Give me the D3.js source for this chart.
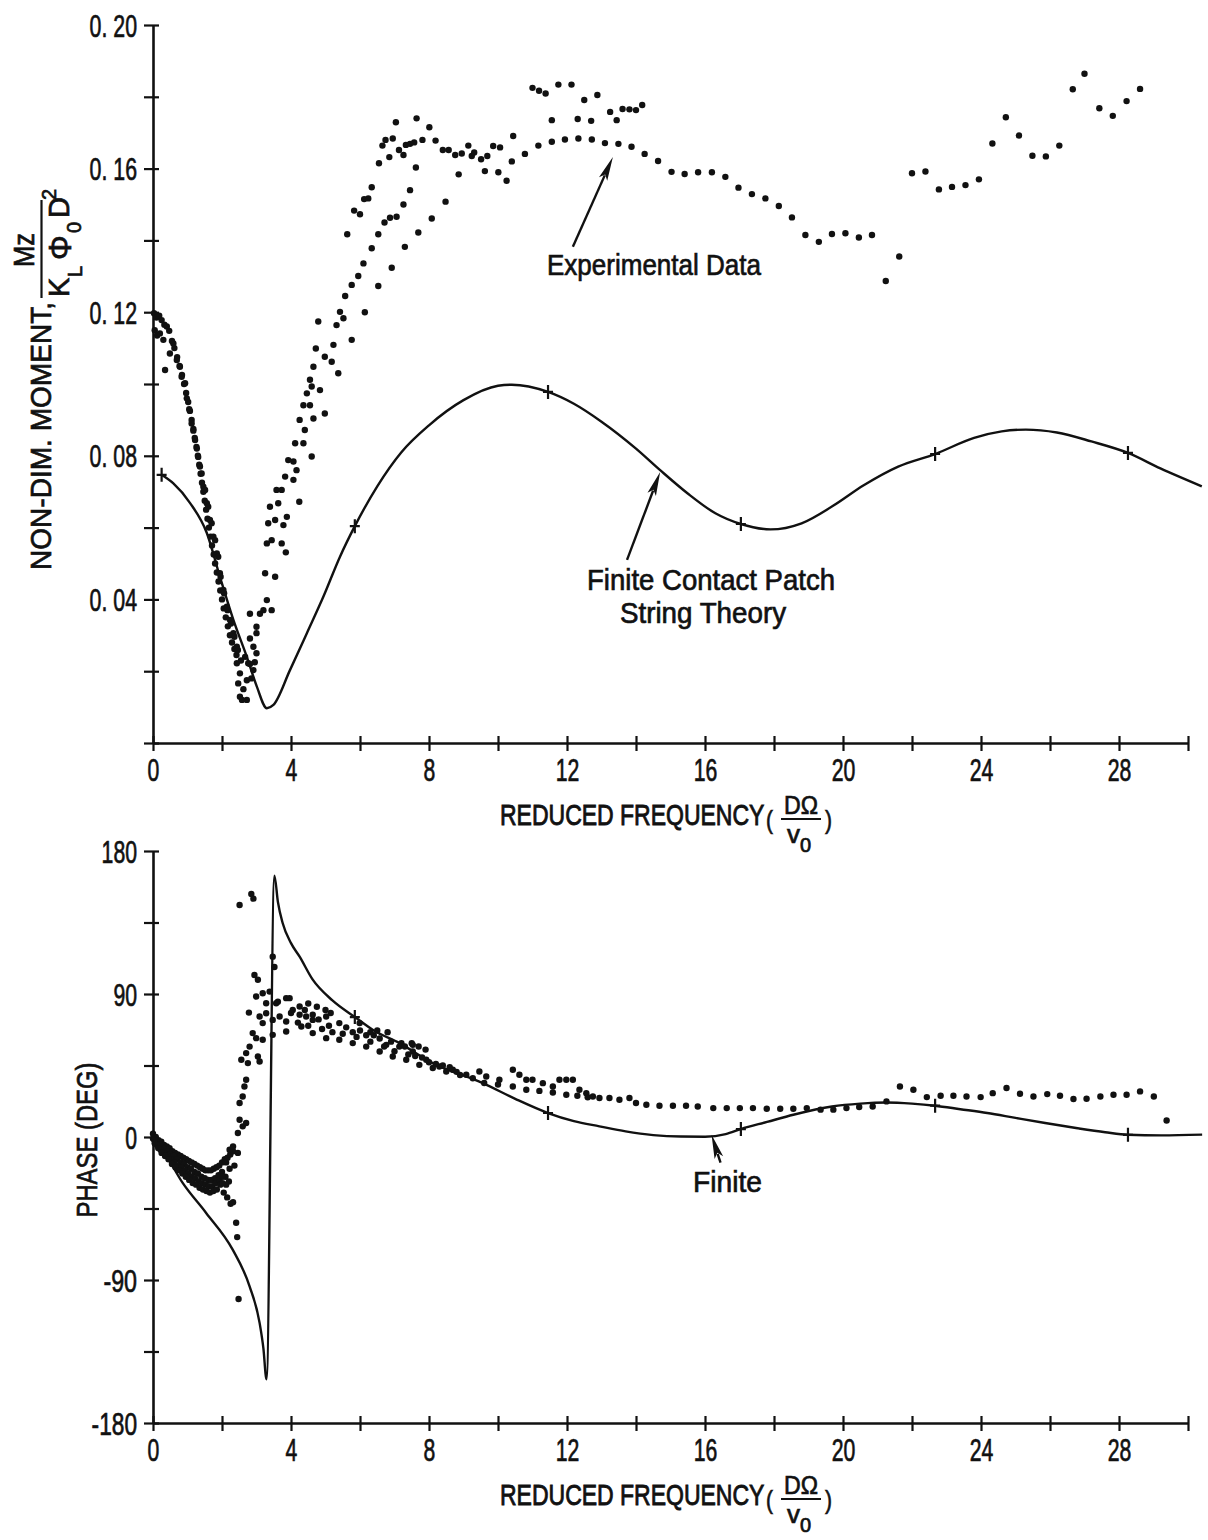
<!DOCTYPE html>
<html>
<head>
<meta charset="utf-8">
<script src="https://cdn.jsdelivr.net/npm/d3@7"></script>
<style>
  html, body { margin: 0; padding: 0; background: #fff; }
  svg { display: block; }
  text { font-family: "Liberation Sans", Arimo, Arial, sans-serif; fill: #111; stroke: #111; stroke-width: 0.7px; }
</style>
</head>
<body>
<svg id="chart" width="1208" height="1540"></svg>
<script>
// ---------- axis ticks and labels ----------
const freqTicks = [0, 2, 4, 6, 8, 10, 12, 14, 16, 18, 20, 22, 24, 26, 28, 30];
const freqLabels = [0, 4, 8, 12, 16, 20, 24, 28];
const momentTicks = [0, 0.02, 0.04, 0.06, 0.08, 0.10, 0.12, 0.14, 0.16, 0.18, 0.20];
const momentLabelValues = [0.04, 0.08, 0.12, 0.16, 0.20];
const momentLabelText = ["0. 04", "0. 08", "0. 12", "0. 16", "0. 20"];
const phaseTicks = [-180, -135, -90, -45, 0, 45, 90, 135, 180];
const phaseLabels = [-180, -90, 0, 90, 180];

// ---------- upper panel: moment magnitude ----------
// string theory curve [reduced frequency, moment]
const momentTheory = [
  [0.25, 0.0747], [0.59, 0.0723], [1.07, 0.0669], [1.56, 0.0585], [1.94, 0.0463],
  [2.33, 0.0343], [2.72, 0.0240], [3.01, 0.0157], [3.30, 0.0097], [3.49, 0.0106],
  [3.97, 0.0203], [4.46, 0.0306], [4.94, 0.0408], [5.42, 0.0519], [5.85, 0.0604],
  [6.5, 0.0715], [7.2, 0.0810], [8.0, 0.0885], [9.0, 0.0955], [10.0, 0.0995],
  [10.4, 0.0998], [11.45, 0.0978], [12.2, 0.0945], [13.0, 0.0895], [14.0, 0.0820],
  [14.7, 0.0760], [15.5, 0.0695], [16.3, 0.0640], [17.04, 0.0610], [17.9, 0.0595],
  [18.8, 0.0612], [19.7, 0.0660], [20.6, 0.0718], [21.6, 0.0770], [22.67, 0.0805],
  [23.8, 0.0850], [24.6, 0.0868], [25.3, 0.0873], [26.2, 0.0865], [27.2, 0.0840],
  [28.26, 0.0808], [29.2, 0.0765], [30.4, 0.0715]
];
// frequencies where the computed points are marked with a cross
const momentMarkFreqs = [0.25, 5.85, 11.45, 17.04, 22.67, 28.26];

// measured moment [reduced frequency, moment]
const momentMeasured = [
  // falling band, low frequency
  [0.03,0.1197],[0.10,0.1185],[0.18,0.1190],[0.25,0.1178],[0.33,0.1165],[0.40,0.1160],[0.47,0.1148],
  [0.55,0.1120],[0.62,0.1100],[0.70,0.1075],[0.77,0.1050],[0.84,0.1025],[0.90,0.1000],[0.96,0.0975],
  [1.02,0.0950],[1.07,0.0925],[1.12,0.0900],[1.17,0.0875],[1.21,0.0850],[1.26,0.0825],[1.30,0.0800],
  [1.34,0.0775],[1.38,0.0750],[1.42,0.0725],[1.46,0.0700],[1.50,0.0675],[1.54,0.0650],[1.58,0.0625],
  [1.62,0.0600],[1.67,0.0575],[1.71,0.0550],[1.76,0.0525],[1.80,0.0500],[1.85,0.0475],[1.90,0.0450],
  [1.95,0.0425],[2.00,0.0400],[2.05,0.0375],[2.11,0.0350],[2.17,0.0325],[2.23,0.0300],[2.29,0.0280],
  [2.36,0.0262],[2.42,0.0245],
  [0.05,0.1150],[0.12,0.1135],[0.20,0.1141],[0.30,0.1123],[0.35,0.1039],[0.49,0.1085],[0.59,0.1113],
  [0.69,0.1067],[0.78,0.1048],[0.83,0.1020],[0.93,0.1002],[0.98,0.0960],[1.05,0.0930],[1.12,0.0890],
  [1.17,0.0870],[1.22,0.0844],[1.27,0.0820],[1.31,0.0797],[1.36,0.0770],[1.41,0.0751],[1.46,0.0714],
  [1.51,0.0705],[1.56,0.0668],[1.60,0.0658],[1.65,0.0621],[1.70,0.0612],[1.75,0.0575],[1.80,0.0565],
  [1.85,0.0528],[1.89,0.0519],[1.94,0.0473],[1.96,0.0463],[2.04,0.0426],[2.06,0.0417],[2.14,0.0380],
  [2.16,0.0370],[2.23,0.0343],[2.26,0.0333],[2.33,0.0306],[2.36,0.0296],[2.43,0.0268],[2.46,0.0259],
  // scatter near the minimum
  [2.43,0.0222],[2.52,0.0194],[2.47,0.0166],[2.52,0.0129],[2.58,0.0120],[2.72,0.0120],[2.67,0.0240],
  [2.76,0.0222],[2.81,0.0291],[3.00,0.0250],[2.91,0.0203],[2.72,0.0175],[2.62,0.0150],[2.55,0.0230],
  [2.85,0.0180],[2.95,0.0225],
  // rising branches
  [2.81,0.0220],[2.91,0.0268],[3.00,0.0306],[3.10,0.0360],[3.20,0.0370],[3.30,0.0398],[3.44,0.0370],
  [2.81,0.0360],[3.00,0.0324],[3.25,0.0473],[3.54,0.0463],[3.30,0.0556],[3.44,0.0565],[3.73,0.0556],
  [3.85,0.0531],[3.34,0.0612],[3.54,0.0621],[3.78,0.0607],[3.39,0.0658],[3.63,0.0668],[3.88,0.0630],
  [3.58,0.0705],[3.73,0.0705],[3.83,0.0742],[4.07,0.0733],[4.24,0.0672],[3.92,0.0788],[4.07,0.0784],
  [4.16,0.0760],[4.12,0.0835],[4.36,0.0835],[4.60,0.0798],[4.25,0.0900],[4.40,0.0872],[4.65,0.0904],
  [4.98,0.0918],[4.36,0.0941],[4.55,0.0941],[4.46,0.0974],[4.60,0.0993],[4.84,0.0983],[4.55,0.1012],
  [4.65,0.1048],[4.98,0.1076],[5.18,0.1062],[4.72,0.1099],[5.23,0.1109],[5.32,0.1164],[5.52,0.1183],
  [5.42,0.1201],[4.79,0.1174],[5.76,0.1123],[5.37,0.1030],[5.57,0.1245],[5.76,0.1276],[5.95,0.1301],
  [6.10,0.1336],[6.34,0.1378],[6.53,0.1417],[6.71,0.1450],[6.87,0.1463],[7.06,0.1466],[7.26,0.1500],
  [7.45,0.1540],[7.69,0.1422],[8.08,0.1461],[8.48,0.1508],[7.30,0.1382],[6.92,0.1324],[6.53,0.1273],
  [6.14,0.1200],
  [5.63,0.1417],[5.83,0.1483],[6.00,0.1473],[6.12,0.1515],[6.24,0.1517],[6.34,0.1548],[6.55,0.1615],
  [6.65,0.1664],[6.74,0.1680],[6.95,0.1684],[6.85,0.1632],[7.04,0.1729],[7.13,0.1652],[7.26,0.1638],
  [7.33,0.1666],[7.45,0.1669],[7.57,0.1673],[7.64,0.1740],[7.62,0.1603],[7.81,0.1680],[8.01,0.1715],
  [8.19,0.1678],[8.40,0.1652],[8.57,0.1652],[8.76,0.1638],[8.95,0.1642],[8.86,0.1584],[9.14,0.1664],
  [9.24,0.1635],[9.31,0.1645],[9.51,0.1626],[9.62,0.1593],[9.69,0.1635],[9.86,0.1663],[10.06,0.1659],
  [10.01,0.1590],[10.25,0.1566],[10.40,0.1620],[10.44,0.1691],[10.78,0.1641],[11.17,0.1664],
  [11.56,0.1675],[11.94,0.1681],[12.33,0.1684],[12.72,0.1681],[13.10,0.1671],[13.49,0.1669],
  [13.87,0.1661],[14.25,0.1641],[14.64,0.1621],[15.03,0.1591],[15.41,0.1585],[15.80,0.1590],
  // upper cluster
  [11.00,0.1825],[11.19,0.1817],[11.38,0.1809],[11.75,0.1834],[12.13,0.1834],[12.50,0.1791],
  [12.88,0.1805],[11.56,0.1735],[12.31,0.1738],[12.70,0.1733],[13.25,0.1758],[13.44,0.1735],
  [13.61,0.1766],[13.81,0.1765],[14.00,0.1763],[14.18,0.1777],
  // high frequency
  [16.20,0.1590],[16.59,0.1577],[16.97,0.1547],[17.36,0.1529],[17.75,0.1517],[18.14,0.1496],
  [18.52,0.1464],[18.91,0.1415],[19.30,0.1396],[19.68,0.1418],[20.07,0.1420],[20.46,0.1408],
  [20.84,0.1415],[21.24,0.1287],[21.63,0.1355],[22.00,0.1587],[22.39,0.1592],[22.78,0.1542],
  [23.16,0.1549],[23.55,0.1554],[23.94,0.1570],[24.33,0.1670],[24.72,0.1743],[25.10,0.1692],
  [25.49,0.1636],[25.88,0.1634],[26.27,0.1664],[26.66,0.1821],[27.00,0.1864],[27.43,0.1768],
  [27.82,0.1747],[28.22,0.1788],[28.61,0.1822]
];

// ---------- lower panel: phase ----------
const phaseTheory = [
  [0.0, 0], [0.28, -8], [0.86, -28.9], [1.54, -47.8], [2.31, -70.9], [2.80, -94],
  [3.09, -117], [3.20, -133], [3.29, -152.5], [3.52, 164.5], [3.62, 148], [3.76, 134.5],
  [4.0, 122], [4.25, 113.5], [4.63, 99], [5.2, 86], [5.85, 75.5], [6.4, 67], [7.14, 59.1],
  [8.11, 46.5], [9.56, 33.9], [10.5, 24], [11.45, 15.1], [12.2, 10], [12.94, 6.7],
  [13.7, 3.5], [14.5, 1.2], [15.3, 0.3], [16.0, 0.2], [16.6, 1.8], [17.04, 5], [17.8, 9.5],
  [18.56, 14], [19.68, 19.2], [20.5, 21], [21.26, 21.7], [22.0, 21], [22.67, 19.7],
  [23.4, 17.5], [24.18, 15.1], [25.0, 12], [25.86, 8.8], [26.8, 5.5], [27.6, 3],
  [28.26, 1.4], [29.23, 1.0], [30.41, 1.5]
];
const phaseMarkFreqs = [5.85, 11.45, 17.04, 22.67, 28.26];

// measured phase [reduced frequency, degrees]
const phaseMeasured = [
  // low-frequency band (several overlapping sweeps)
  [0.00,2],[0.08,0],[0.16,-2],[0.24,-3],[0.32,-5],[0.40,-6],[0.48,-7],[0.56,-9],[0.64,-10],[0.72,-11],
  [0.80,-12],[0.88,-13],[0.96,-14],[1.04,-15],[1.12,-16],[1.20,-17],[1.28,-18],[1.36,-19],[1.44,-20],
  [1.52,-21],[1.60,-21],[1.68,-21],[1.76,-20],[1.84,-19],[1.92,-18],[2.00,-16],[2.08,-14],[2.16,-13],
  [2.24,-11],[2.32,-9],
  [0.00,-1],[0.10,-3],[0.20,-5],[0.30,-7],[0.40,-9],[0.50,-11],[0.60,-12],[0.70,-14],[0.80,-16],
  [0.90,-17],[1.00,-19],[1.10,-20],[1.20,-22],[1.30,-23],[1.40,-25],[1.50,-26],[1.60,-27],[1.70,-27],
  [1.80,-26],[1.90,-24],[2.00,-22],[2.10,-25],[2.20,-28],
  [0.04,-2],[0.12,-5],[0.22,-8],[0.32,-10],[0.42,-12],[0.52,-14],[0.62,-16],[0.72,-18],[0.82,-19],
  [0.92,-21],[1.02,-23],[1.12,-25],[1.22,-26],[1.32,-28],[1.42,-29],[1.52,-30],[1.62,-31],[1.72,-31],
  [1.82,-29],[1.92,-27],[2.02,-25],[2.12,-30],
  [0.05,-4],[0.15,-7],[0.25,-10],[0.35,-12],[0.45,-14],[0.55,-17],[0.65,-19],[0.75,-21],[0.85,-23],
  [0.95,-25],[1.05,-27],[1.15,-29],[1.25,-30],[1.35,-32],[1.45,-33],[1.55,-34],[1.65,-35],[1.75,-34],
  [1.85,-33],[1.95,-30],[2.05,-35],[2.15,-38],[2.25,-42],[2.32,-41],
  [2.41,-54],[2.44,-63],[2.48,-102],[2.02,-29],[2.12,-16],[2.22,-20],[2.36,-18],[2.22,-8],[2.32,-6],
  [2.46,-10],
  // steep rise
  [2.46,2.5],[2.60,6.7],[2.70,8.8],[2.51,10.9],[2.51,21.4],[2.60,25.5],[2.65,31.8],[2.70,36],
  [2.80,56.9],[2.70,52.8],[2.56,48.6],[2.75,46.5],[3.04,50.7],[3.09,47.5],[2.89,65.4],[2.99,62.2],
  [3.18,61.2],[3.47,64.3],[2.78,78.3],[3.09,75.8],[3.28,77.9],[3.18,71.7],[3.47,73.7],[3.67,75.8],
  [3.86,72.7],[2.94,102],[3.04,99],[3.38,91.5],[3.18,90.5],[2.99,88.4],[3.28,84.2],[3.62,85.2],
  [3.86,87.4],[3.47,113.5],[3.52,107],[2.51,146],[2.85,153],[2.91,150],
  // post-resonance band
  [4.05,80],[4.25,76.9],[4.44,75.8],[4.63,73.7],[3.86,66.4],[4.30,69.5],[4.63,65.4],
  [3.57,84.2],[3.96,87.4],[4.25,82.1],[4.63,76.9],[5.02,75.8],[5.40,71.7],[5.99,71.7],[5.79,66],
  [6.18,64],[6.57,62],[6.76,58],[7.14,56.9],[7.53,53.8],[7.53,58],[7.90,55],[7.92,48.6],[8.30,44.4],
  [8.69,42.3],[9.08,39.2],[9.46,41.2],[9.66,38.1],[10.04,36],[10.43,42.3],[10.62,39.2],[10.82,36],
  [11.00,36],[11.30,33.9],[11.59,31.8],[11.78,36],[11.98,36],[12.17,36],[12.36,29.7],[12.56,27.6],
  [12.75,25.5],[12.94,24.5],[13.23,24.5],[13.52,23.4],[13.81,24.5],[14.00,21.4],[14.30,20.3],
  [14.68,19.7],[15.07,19.7],[15.45,19.7],[15.79,19.2],
  [5.02,62.2],[5.40,61.2],[5.79,59.1],[6.18,56.9],[6.57,53.8],[6.95,50.7],[7.34,48.6],[7.72,45.4],
  [8.11,43.4],[8.50,41.2],[8.90,39],[9.27,37],[9.60,34],[10.00,33],[10.43,31.8],[10.82,29.7],
  [11.20,29],[11.59,28],[11.98,26.6],[12.30,26],[12.60,25],
  [4.0,78],[4.2,72],[4.4,80],[4.5,70],[4.8,74],[4.9,68],[5.1,70],[5.2,66],[5.5,65],[5.6,69],[5.9,63],
  [6.0,67],[6.3,60],[6.4,64],[6.7,57],[6.9,60],[7.0,54],[7.2,59],[7.4,52],[7.6,51],[7.8,50],[8.0,47],
  [8.2,46],[8.4,45],[8.6,44],[8.8,41],
  [4.5,84],[4.75,82],[5.0,80],[5.15,78],[6.3,66],[6.5,67],[6.8,66],[7.3,57],[7.5,59],[7.7,57],
  // high frequency
  [16.24,18.2],[16.63,18.2],[17.01,18.2],[17.39,18.2],[17.79,17.8],[18.18,17.8],[18.56,17.8],
  [18.95,18.2],[19.35,17.2],[19.72,17.2],[20.10,18.2],[20.47,18.9],[20.86,19.2],[21.26,22.4],
  [21.65,31.8],[22.04,29.7],[22.43,25.1],[22.83,26],[23.20,26],[23.58,25.5],[23.99,25.1],
  [24.34,27.6],[24.74,30.8],[25.13,27.2],[25.52,25.5],[25.92,27],[26.29,26],[26.68,23.9],
  [27.06,24.1],[27.46,25.5],[27.84,26.6],[28.22,26.6],[28.61,28.7],[29.01,25.5],[29.38,10.4]
];

// ---------- drawing ----------
const svg = d3.select("#chart");
svg.append("rect").attr("width", 1208).attr("height", 1540).attr("fill", "#fff");

const INK = "#111";
const DOT_R = 3.2;
const x = d3.scaleLinear().domain([0, 30]).range([153, 1188]);
const yMoment = d3.scaleLinear().domain([0, 0.20]).range([743, 25]);
const yPhase = d3.scaleLinear().domain([-180, 180]).range([1423, 851]);

// approximate advance of the narrow typewriter digits
const glyphW = { ".": 6, " ": 6, "-": 10 };
const textWidth = s => Array.from(String(s)).reduce((w, c) => w + (glyphW[c] ?? 11.8), 0);

function label(g, px, py, s, size, len, anchor = "start") {
  const t = g.append("text")
    .attr("x", px).attr("y", py)
    .attr("font-size", size)
    .attr("text-anchor", anchor)
    .text(s);
  if (len) t.attr("textLength", len).attr("lengthAdjust", "spacingAndGlyphs");
  return t;
}

function arrow(g, x1, y1, x2, y2) {
  const dx = x2 - x1, dy = y2 - y1, L = Math.hypot(dx, dy);
  const ux = dx / L, uy = dy / L, head = 24, half = 4.5;
  const bx = x2 - ux * head, by = y2 - uy * head;
  g.append("line").attr("x1", x1).attr("y1", y1).attr("x2", bx + ux * 4).attr("y2", by + uy * 4)
    .attr("stroke", INK).attr("stroke-width", 2.4);
  g.append("path")
    .attr("d", `M${x2},${y2}L${bx - uy * half},${by + ux * half}L${bx + ux * 5},${by + uy * 5}L${bx + uy * half},${by - ux * half}Z`)
    .attr("fill", INK);
}

function styleTickText(sel) {
  sel.attr("font-size", 31).attr("font-family", null).attr("fill", INK)
    .each(function () {
      const s = this.textContent;
      if (s) d3.select(this).attr("textLength", textWidth(s)).attr("lengthAdjust", "spacingAndGlyphs");
    });
}

function xAxis(yPos) {
  const g = svg.append("g").attr("transform", `translate(0,${yPos})`)
    .call(d3.axisBottom(x).tickValues(freqTicks).tickSizeOuter(0)
      .tickFormat(d => freqLabels.includes(d) ? String(d) : ""));
  g.select(".domain").attr("stroke", INK).attr("stroke-width", 2.6);
  g.selectAll(".tick line").attr("y1", -7).attr("y2", 8).attr("stroke", INK).attr("stroke-width", 2.2);
  g.selectAll(".tick text").attr("y", 38).attr("dy", null).call(styleTickText);
  return g;
}

function yAxis(scale, ticks, fmt) {
  const g = svg.append("g").attr("transform", `translate(${x(0)},0)`)
    .call(d3.axisLeft(scale).tickValues(ticks).tickSizeOuter(0).tickFormat(fmt));
  g.select(".domain").attr("stroke", INK).attr("stroke-width", 2.6);
  g.selectAll(".tick line").attr("x1", -9).attr("x2", 6).attr("stroke", INK).attr("stroke-width", 2.2);
  g.selectAll(".tick text").attr("x", -16).attr("dy", "0.36em").call(styleTickText);
  return g;
}

// abscissa title: tall narrow words, bracket marks and the DΩ / v0 fraction
function frequencyTitle(axisY) {
  const g = svg.append("g");
  g.append("text")
    .attr("transform", `translate(500,${axisY + 82}) scale(1,1.3)`)
    .attr("font-size", 23)
    .text("REDUCED FREQUENCY");
  label(g, 766, axisY + 86, "(", 26, 7);
  label(g, 825, axisY + 86, ")", 26, 7);
  label(g, 784, axisY + 71, "DΩ", 26, 34);
  g.append("line").attr("x1", 781).attr("x2", 821).attr("y1", axisY + 76).attr("y2", axisY + 76)
    .attr("stroke", INK).attr("stroke-width", 2);
  const den = g.append("text").attr("font-size", 26);
  den.append("tspan").attr("x", 787).attr("y", axisY + 100).text("v");
  den.append("tspan").attr("x", 800).attr("y", axisY + 109).attr("font-size", 20).text("0");
}

// ----- upper panel -----
yAxis(yMoment, momentTicks, d => {
  const i = momentLabelValues.findIndex(v => Math.abs(v - d) < 1e-9);
  return i >= 0 ? momentLabelText[i] : "";
});
xAxis(yMoment(0));
frequencyTitle(yMoment(0));

// rotated ordinate title with the coefficient fraction
{
  const g = svg.append("g").attr("transform", "translate(0,743) rotate(-90)");
  label(g, 173, 51, "NON-DIM. MOMENT,", 30, 268);
  g.append("line").attr("x1", 445).attr("x2", 543).attr("y1", 41.5).attr("y2", 41.5)
    .attr("stroke", INK).attr("stroke-width", 2.2);
  label(g, 476, 34, "Mz", 29, 34);
  const den = g.append("text").attr("font-size", 29);
  den.append("tspan").attr("x", 446).attr("y", 69).text("K");
  den.append("tspan").attr("x", 466).attr("y", 82).attr("font-size", 20).text("L");
  den.append("tspan").attr("x", 483).attr("y", 71).attr("font-size", 31).text("Φ");
  den.append("tspan").attr("x", 510).attr("y", 81).attr("font-size", 20).text("0");
  den.append("tspan").attr("x", 525).attr("y", 69).text("D");
  den.append("tspan").attr("x", 543).attr("y", 56).attr("font-size", 20).text("2");
}

const momentLine = d3.line().x(d => x(d[0])).y(d => yMoment(d[1])).curve(d3.curveMonotoneX);
svg.append("path").datum(momentTheory).attr("d", momentLine)
  .attr("fill", "none").attr("stroke", INK).attr("stroke-width", 2.4);
svg.append("g").selectAll("path")
  .data(momentTheory.filter(d => momentMarkFreqs.includes(d[0])))
  .join("path")
  .attr("d", d => `M${x(d[0])},${yMoment(d[1]) - 7}V${yMoment(d[1]) + 7}M${x(d[0]) - 5},${yMoment(d[1])}H${x(d[0]) + 5}`)
  .attr("stroke", INK).attr("stroke-width", 2.2);

svg.append("g").selectAll("circle").data(momentMeasured).join("circle")
  .attr("cx", d => x(d[0])).attr("cy", d => yMoment(d[1])).attr("r", DOT_R).attr("fill", INK);

{
  const g = svg.append("g");
  label(g, 547, 275, "Experimental Data", 30, 214);
  arrow(g, x(12.17), yMoment(0.1382), x(13.33), yMoment(0.1632));
  label(g, 587, 590, "Finite Contact Patch", 30, 248);
  label(g, 620, 623, "String Theory", 30, 166);
  arrow(g, x(13.74), yMoment(0.051), x(14.7), yMoment(0.0755));
}

// ----- lower panel -----
yAxis(yPhase, phaseTicks, d => phaseLabels.includes(d) ? String(d) : "");
xAxis(yPhase(-180));
frequencyTitle(yPhase(-180));
{
  const g = svg.append("g").attr("transform", "translate(97,1140) rotate(-90)");
  label(g, 0, 0, "PHASE (DEG)", 30, 155, "middle");
}

const phaseLine = d3.line().x(d => x(d[0])).y(d => yPhase(d[1])).curve(d3.curveMonotoneX);
svg.append("path").datum(phaseTheory).attr("d", phaseLine)
  .attr("fill", "none").attr("stroke", INK).attr("stroke-width", 2.4).attr("stroke-linejoin", "round");
svg.append("g").selectAll("path")
  .data(phaseTheory.filter(d => phaseMarkFreqs.includes(d[0])))
  .join("path")
  .attr("d", d => `M${x(d[0])},${yPhase(d[1]) - 7}V${yPhase(d[1]) + 7}M${x(d[0]) - 5},${yPhase(d[1])}H${x(d[0]) + 5}`)
  .attr("stroke", INK).attr("stroke-width", 2.2);

svg.append("g").selectAll("circle").data(phaseMeasured).join("circle")
  .attr("cx", d => x(d[0])).attr("cy", d => yPhase(d[1])).attr("r", DOT_R).attr("fill", INK);

{
  const g = svg.append("g");
  label(g, 693, 1192, "Finite", 30, 69);
  arrow(g, x(16.45), yPhase(-16.2), x(16.19), yPhase(1.4));
}
</script>
</body>
</html>
